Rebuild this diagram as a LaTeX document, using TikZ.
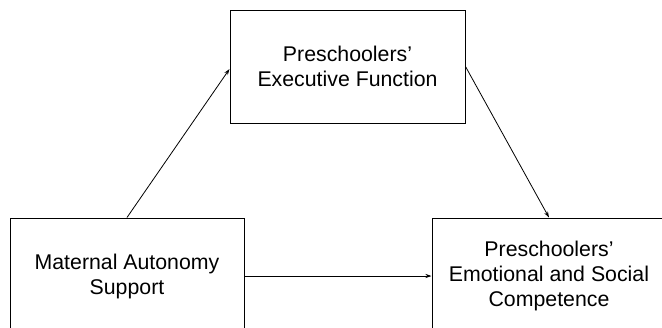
\documentclass[tikz,border=0pt]{standalone}
\usepackage{fontspec}
\setmainfont{Liberation Sans}
\usetikzlibrary{arrows.meta}
\tikzset{
  box/.style={draw=black, line width=1pt, rectangle, align=center,
    font=\fontsize{21.3}{25}\selectfont, inner sep=0pt},
  conn/.style={line width=0.8pt, -{Stealth[length=6pt,width=4pt]}}
}
\begin{document}
\begin{tikzpicture}[x=1pt,y=-1pt]
\useasboundingbox (0,0) rectangle (662,327);
\clip (0,0) rectangle (662,327);
\node[box, minimum width=235pt, minimum height=113pt] (top) at (347.5,66.5)
  {Preschoolers'\\Executive Function};
\node[box, minimum width=234pt, minimum height=116pt] (left) at (127,276)
  {Maternal Autonomy\\Support};
\node[box, minimum width=234pt, minimum height=116pt] (right) at (549,276)
  {Preschoolers'\\Emotional and Social\\Competence};
\draw[conn] (left.north) -- ([yshift=-2.5pt]top.west);
\draw[conn] (top.east) -- (right.north);
\draw[conn] (left.east) -- (right.west);
\end{tikzpicture}
\end{document}
